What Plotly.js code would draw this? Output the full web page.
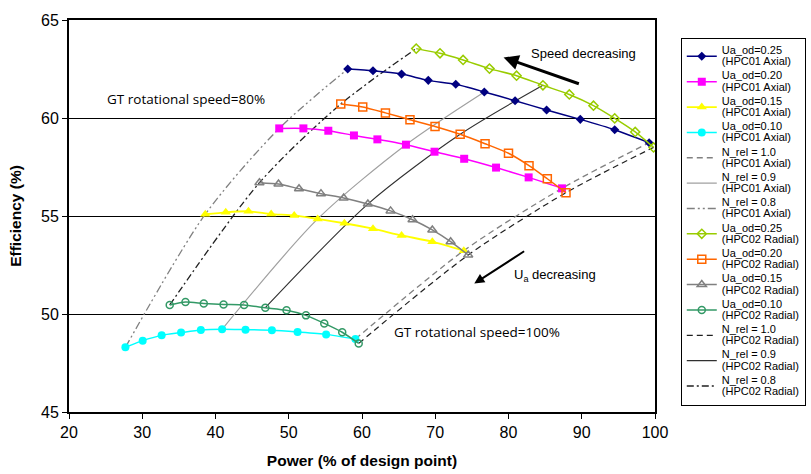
<!DOCTYPE html>
<html><head><meta charset="utf-8">
<script src="https://cdn.plot.ly/plotly-3.0.1.min.js"></script>
<style>body{margin:0;background:#fff}</style>
</head><body><div id="chart" style="width:811px;height:474px"></div>
<script>
// HPC01 Axial
const axial_ua025_x = [58.05, 61.5, 65.4, 69.05, 72.8, 76.7, 80.9, 85.2, 89.8, 94.5, 99.2];
const axial_ua025_y = [62.5, 62.41, 62.24, 61.92, 61.72, 61.33, 60.88, 60.41, 59.93, 59.4, 58.74];
const axial_ua020_x = [48.7, 52.0, 55.4, 58.9, 62.1, 66.0, 69.9, 73.95, 78.3, 82.75, 87.3];
const axial_ua020_y = [59.47, 59.47, 59.35, 59.11, 58.91, 58.64, 58.28, 57.92, 57.47, 56.97, 56.41];
const axial_ua015_x = [38.6, 41.4, 44.5, 47.6, 50.75, 53.95, 57.6, 61.5, 65.4, 69.6, 73.9];
const axial_ua015_y = [55.09, 55.19, 55.24, 55.10, 55.03, 54.85, 54.63, 54.35, 54.01, 53.69, 53.23];
const axial_ua010_x = [27.7, 30.06, 32.65, 35.3, 38.0, 40.9, 44.1, 47.7, 51.2, 55.1, 59.1];
const axial_ua010_y = [48.30, 48.64, 48.91, 49.05, 49.18, 49.22, 49.2, 49.17, 49.08, 48.96, 48.72];
// HPC02 Radial
const radial_ua025_x = [67.4, 70.65, 73.8, 77.4, 81.1, 84.7, 88.3, 91.6, 94.5, 97.3, 99.8];
const radial_ua025_y = [63.54, 63.3, 62.96, 62.52, 62.16, 61.67, 61.2, 60.63, 59.98, 59.29, 58.5];
const radial_ua020_x = [57.1, 60.1, 63.2, 66.55, 69.97, 73.4, 76.8, 80.0, 82.8, 85.3, 87.85];
const radial_ua020_y = [60.71, 60.56, 60.26, 59.91, 59.57, 59.17, 58.69, 58.2, 57.57, 56.9, 56.19];
const radial_ua015_x = [46.0, 48.6, 51.4, 54.4, 57.5, 60.8, 63.9, 66.9, 69.6, 72.1, 74.5];
const radial_ua015_y = [56.70, 56.63, 56.39, 56.14, 55.92, 55.61, 55.26, 54.81, 54.29, 53.69, 53.01];
const radial_ua010_x = [33.75, 35.9, 38.4, 41.1, 43.9, 46.8, 49.7, 52.35, 54.85, 57.3, 59.55];
const radial_ua010_y = [50.46, 50.61, 50.54, 50.49, 50.46, 50.32, 50.19, 49.93, 49.52, 49.07, 48.5];

// index of each N_rel operating point within every Ua curve
const nrelLabels = ["1.0", "0.9", "0.8"];
const nrelIndex = [10, 5, 0];

const FONT = "Liberation Sans, Arial, sans-serif";

const axialX = [axial_ua010_x, axial_ua015_x, axial_ua020_x, axial_ua025_x];
const axialY = [axial_ua010_y, axial_ua015_y, axial_ua020_y, axial_ua025_y];
const radialX = [radial_ua010_x, radial_ua015_x, radial_ua020_x, radial_ua025_x];
const radialY = [radial_ua010_y, radial_ua015_y, radial_ua020_y, radial_ua025_y];

// legend label: text drawn at 11px while line spacing follows the compact legend font
function lab(a, b) {
  return '<span style="font-size:11px">' + a + '</span><br><span style="font-size:11px">' + b + '</span>';
}

const traces = [];
const nrelStyleAxial = [
  {color: "#808080", dash: "6px,4px", width: 1.3},
  {color: "#a0a0a0", dash: "solid", width: 1.2},
  {color: "#808080", dash: "8px,3px,2px,3px,2px,3px", width: 1.3}
];
const nrelStyleRadial = [
  {color: "#202020", dash: "6px,4px", width: 1.2},
  {color: "#303030", dash: "solid", width: 1.1},
  {color: "#202020", dash: "7px,3px,2px,3px", width: 1.3}
];
nrelLabels.forEach((l, k) => {
  const idx = nrelIndex[k];
  traces.push({
    x: axialX.map(a => a[idx]), y: axialY.map(a => a[idx]),
    mode: "lines", name: lab("N_rel = " + l, "(HPC01 Axial)"), legendrank: 5 + k,
    line: Object.assign({shape: "spline", smoothing: 0.8}, nrelStyleAxial[k])
  });
  traces.push({
    x: radialX.map(a => a[idx]), y: radialY.map(a => a[idx]),
    mode: "lines", name: lab("N_rel = " + l, "(HPC02 Radial)"), legendrank: 12 + k,
    line: Object.assign({shape: "spline", smoothing: 0.8}, nrelStyleRadial[k])
  });
});

function curve(x, y, name, rank, color, symbol, size, lw, open) {
  return {
    x: x, y: y, mode: "lines+markers", name: name, legendrank: rank,
    line: {color: color, width: lw, shape: "spline", smoothing: 0.6},
    marker: {color: color, symbol: symbol, size: size,
             line: {color: color, width: open ? 1.5 : 0}}
  };
}
traces.push(curve(axial_ua025_x, axial_ua025_y, lab("Ua_od=0.25", "(HPC01 Axial)"), 1, "#000080", "diamond", 7, 1.5, false));
traces.push(curve(axial_ua020_x, axial_ua020_y, lab("Ua_od=0.20", "(HPC01 Axial)"), 2, "#ff00ff", "square", 8, 1.5, false));
traces.push(curve(axial_ua015_x, axial_ua015_y, lab("Ua_od=0.15", "(HPC01 Axial)"), 3, "#ffff00", "triangle-up", 9, 1.8, false));
traces.push(curve(axial_ua010_x, axial_ua010_y, lab("Ua_od=0.10", "(HPC01 Axial)"), 4, "#00ffff", "circle", 8, 1.5, false));
traces.push(curve(radial_ua025_x, radial_ua025_y, lab("Ua_od=0.25", "(HPC02 Radial)"), 8, "#99cc00", "diamond-open", 7, 1.5, true));
traces.push(curve(radial_ua020_x, radial_ua020_y, lab("Ua_od=0.20", "(HPC02 Radial)"), 9, "#ff6600", "square-open", 8, 1.5, true));
traces.push(curve(radial_ua015_x, radial_ua015_y, lab("Ua_od=0.15", "(HPC02 Radial)"), 10, "#808080", "triangle-up-open", 8, 1.5, true));
traces.push(curve(radial_ua010_x, radial_ua010_y, lab("Ua_od=0.10", "(HPC02 Radial)"), 11, "#339966", "circle-open", 7, 1.5, true));

const layout = {
  width: 811, height: 474,
  margin: {l: 69, r: 156, t: 20, b: 62, pad: 0, autoexpand: false},
  paper_bgcolor: "#fff", plot_bgcolor: "#fff",
  font: {family: FONT, color: "#000"},
  showlegend: true,
  legend: {
    x: 1.044, y: 0.955, xanchor: "left", yanchor: "top",
    bordercolor: "#000", borderwidth: 1, bgcolor: "#fff",
    font: {family: FONT, size: 8.6, color: "#000"},
    tracegroupgap: 0, itemwidth: 30, maxheight: 1
  },
  xaxis: {
    range: [20, 100], dtick: 10, tick0: 20,
    showgrid: false, zeroline: false,
    showline: true, mirror: true, linecolor: "#000", linewidth: 2,
    ticks: "outside", ticklen: 5, tickcolor: "#000", tickwidth: 1,
    tickfont: {family: FONT, size: 16, color: "#000"},
    title: {text: "Power (% of design point)", font: {family: FONT, size: 15.5, color: "#000", weight: "bold"}, standoff: 15}
  },
  yaxis: {
    range: [45, 65], dtick: 5, tick0: 45,
    showgrid: true, gridcolor: "#000", gridwidth: 1, zeroline: false,
    showline: true, mirror: true, linecolor: "#000", linewidth: 2,
    ticks: "outside", ticklen: 5, tickcolor: "#000", tickwidth: 1,
    tickfont: {family: FONT, size: 16, color: "#000"},
    title: {text: "Efficiency (%)", font: {family: FONT, size: 15.5, color: "#000", weight: "bold"}, standoff: 16}
  },
  annotations: [
    {x: 24.9, y: 60.96, xref: "x", yref: "y", xanchor: "left", yanchor: "middle", showarrow: false,
     text: "GT rotational speed=80%", font: {family: "Open Sans, sans-serif", size: 13.5, color: "#000"}},
    {x: 64.08, y: 49.08, xref: "x", yref: "y", xanchor: "left", yanchor: "middle", showarrow: false,
     text: "GT rotational speed=100%", font: {family: "Open Sans, sans-serif", size: 13.5, color: "#000"}},
    {x: 82.74, y: 63.3, xref: "x", yref: "y", xanchor: "left", yanchor: "middle", showarrow: false,
     text: "Speed decreasing", font: {family: FONT, size: 13, color: "#000"}},
    {x: 80.48, y: 51.97, xref: "x", yref: "y", xanchor: "left", yanchor: "middle", showarrow: false,
     text: "U<sub>a</sub> decreasing", font: {family: FONT, size: 13, color: "#000"}},
    {x: 79.33, y: 63.09, ax: 89.81, ay: 61.72, xref: "x", yref: "y", axref: "x", ayref: "y",
     showarrow: true, arrowhead: 2, arrowsize: 1, arrowwidth: 3, arrowcolor: "#000", text: ""},
    {x: 75.33, y: 51.55, ax: 82.34, ay: 53.25, xref: "x", yref: "y", axref: "x", ayref: "y",
     showarrow: true, arrowhead: 2, arrowsize: 1, arrowwidth: 2, arrowcolor: "#000", text: ""}
  ]
};

Plotly.newPlot("chart", traces, layout, {displayModeBar: false, staticPlot: true});
</script>
</body></html>
